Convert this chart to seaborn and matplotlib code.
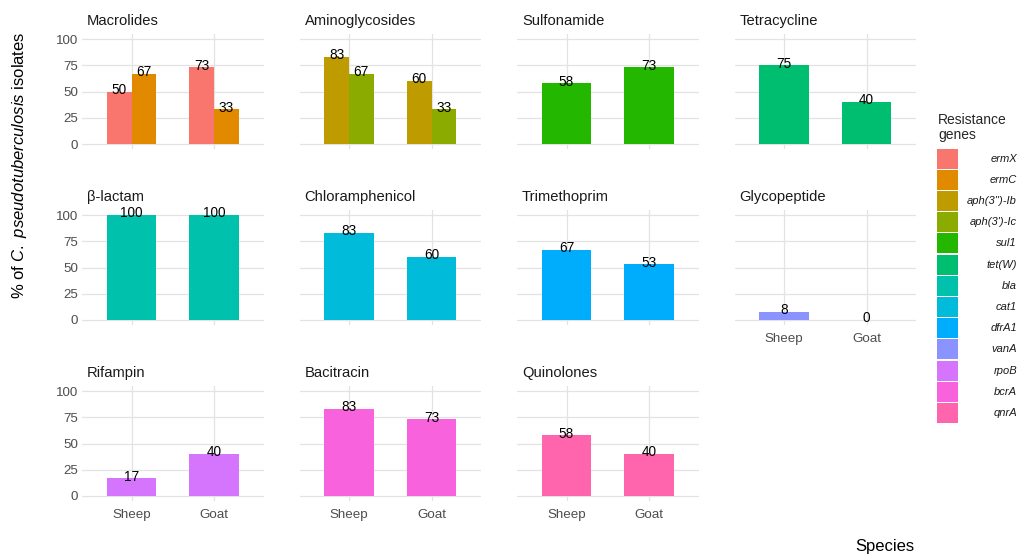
import matplotlib
matplotlib.use("Agg")
import matplotlib.pyplot as plt
from matplotlib.patches import Rectangle
import pandas as pd
import seaborn as sns

# ---- data -------------------------------------------------------------
classes = ["Macrolides", "Aminoglycosides", "Sulfonamide", "Tetracycline",
           "β-lactam", "Chloramphenicol", "Trimethoprim", "Glycopeptide",
           "Rifampin", "Bacitracin", "Quinolones"]
genes = ["ermX", "ermC", "aph(3'')-Ib", "aph(3')-Ic", "sul1", "tet(W)", "bla",
         "cat1", "dfrA1", "vanA", "rpoB", "bcrA", "qnrA"]
gene_class = ["Macrolides", "Macrolides", "Aminoglycosides", "Aminoglycosides",
              "Sulfonamide", "Tetracycline", "β-lactam", "Chloramphenicol",
              "Trimethoprim", "Glycopeptide", "Rifampin", "Bacitracin", "Quinolones"]
species = ["Sheep", "Goat"]
sheep_pct = [50, 67, 83, 67, 58, 75, 100, 83, 67, 8, 17, 83, 58]
goat_pct = [73, 33, 60, 33, 73, 40, 100, 60, 53, 0, 40, 73, 40]
gene_colors = ["#F8766D", "#E18A00", "#BE9C00", "#8CAB00", "#24B700", "#00BE70",
               "#00C1AB", "#00BBDA", "#00ACFC", "#8B93FF", "#D575FE", "#F962DD",
               "#FF65AC"]

rows = []
for g, c, s, t in zip(genes, gene_class, sheep_pct, goat_pct):
    rows.append({"gene": g, "cls": c, "Species": "Sheep", "pct": s})
    rows.append({"gene": g, "cls": c, "Species": "Goat", "pct": t})
df = pd.DataFrame(rows)
palette = dict(zip(genes, gene_colors))

# ---- style ------------------------------------------------------------
sns.set_theme(style="white")
plt.rcParams["font.family"] = ["Liberation Sans", "DejaVu Sans"]
plt.rcParams["mathtext.fontset"] = "custom"
plt.rcParams["mathtext.rm"] = "Liberation Sans"
plt.rcParams["mathtext.it"] = "Liberation Sans:italic"

W, H = 1032, 557
fig = plt.figure(figsize=(W / 100, H / 100), dpi=100)
fig.patch.set_facecolor("white")

col_left = [82, 299.5, 517, 734.5]
panel_w = 181.5
row_top = [33.75, 209.75, 385.75]
panel_h = 115.5
ncol = 4
grid_col = "#E3E3E3"

for i, cls in enumerate(classes):
    r, c = divmod(i, ncol)
    x0, y0 = col_left[c], row_top[r]
    ax = fig.add_axes([x0 / W, 1 - (y0 + panel_h) / H, panel_w / W, panel_h / H])
    sub = df[df["cls"] == cls]
    hue_order = [g for g in genes if g in set(sub["gene"])]
    sns.barplot(data=sub, x="Species", y="pct", hue="gene", order=species,
                hue_order=hue_order, palette=palette, width=0.6, saturation=1,
                linewidth=0, legend=False, ax=ax)
    # value labels at the top of each bar
    for cont, g in zip(ax.containers, hue_order):
        for bar, sp in zip(cont, species):
            v = sub[(sub["gene"] == g) & (sub["Species"] == sp)]["pct"].iloc[0]
            ax.text(bar.get_x() + bar.get_width() / 2, v + 1.5, f"{v}",
                    ha="center", va="center", fontsize=9.8, color="black")
    ax.set_xlim(-0.6, 1.6)
    ax.set_ylim(-5, 105)
    ax.set_yticks([0, 25, 50, 75, 100])
    ax.set_facecolor("white")
    for s in ax.spines.values():
        s.set_visible(False)
    ax.grid(True, color=grid_col, linewidth=0.9)
    ax.set_axisbelow(True)
    ax.tick_params(length=0, labelsize=9.6, labelcolor="#4D4D4D", pad=3)
    ax.tick_params(axis="x", pad=12)
    for t in ax.get_xticklabels():
        t.set_va("baseline")
    ax.set_xlabel("")
    ax.set_ylabel("")
    if c != 0:
        ax.set_yticklabels([])
    bottom = (r == 2) or (r == 1 and c == 3)
    if not bottom:
        ax.set_xticklabels([])
    ax.text(0.028, 1.0 + 13 / panel_h, cls, transform=ax.transAxes,
            ha="left", va="center", fontsize=10.6, color="#1A1A1A")

# axis titles
fig.text(20 / W, 1 - 165 / H,
         r"% of $\mathit{C.\ pseudotuberculosis}$ isolates",
         rotation=90, ha="center", va="center", fontsize=12, color="black")
fig.text(885 / W, 1 - 547 / H, "Species", ha="center", va="center",
         fontsize=12, color="black")

# legend
lax = fig.add_axes([0, 0, 1, 1])
lax.set_xlim(0, W)
lax.set_ylim(H, 0)
lax.axis("off")
lax.text(938, 120, "Resistance", ha="left", va="center", fontsize=10)
lax.text(938, 134.5, "genes", ha="left", va="center", fontsize=10)
key_h = 21.2
for k, (g, col) in enumerate(zip(genes, gene_colors)):
    ky = 148 + k * key_h
    lax.add_patch(Rectangle((937, ky + 0.5), 21, key_h - 1.2, facecolor=col,
                            edgecolor="none"))
    lax.text(1017, ky + key_h / 2, g, ha="right", va="center", fontsize=8,
             style="italic", color="#1A1A1A")

fig.savefig("out.png", dpi=100, facecolor="white")
